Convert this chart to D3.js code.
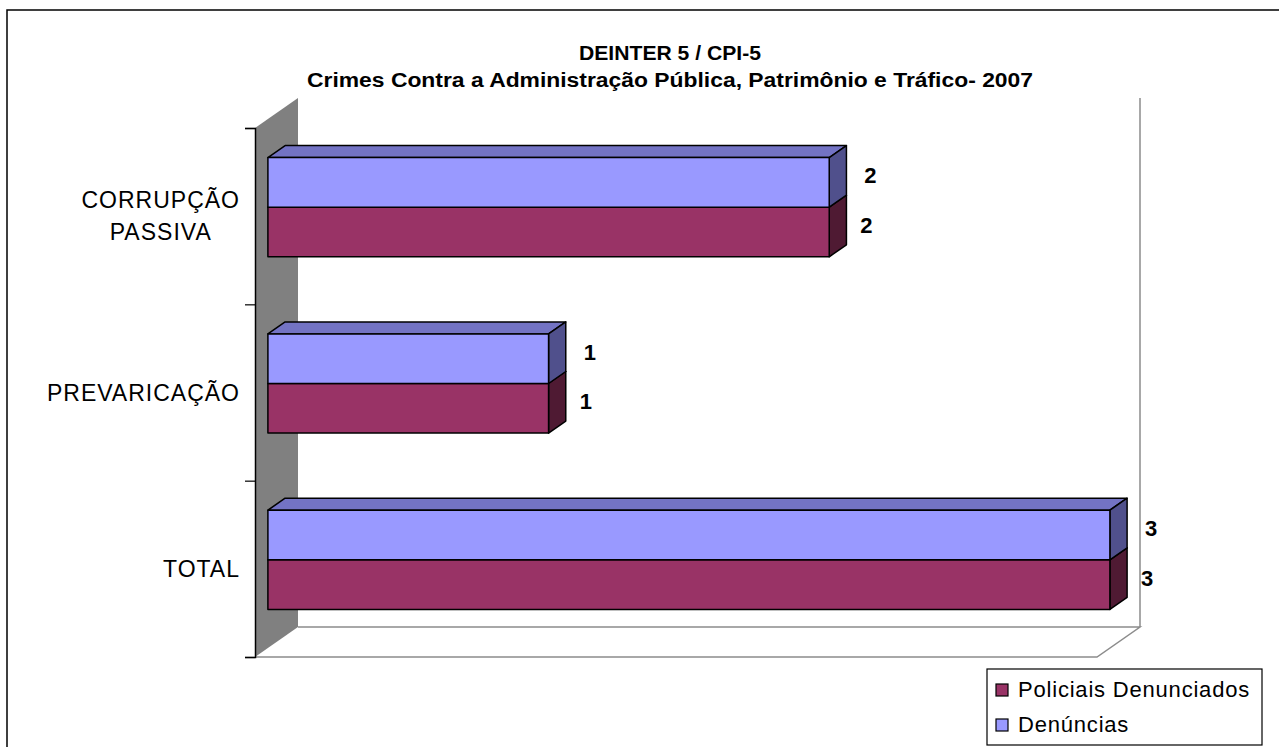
<!DOCTYPE html>
<html>
<head>
<meta charset="utf-8">
<script src="https://cdn.jsdelivr.net/npm/d3@7"></script>
<style>
  body { margin: 0; background: #fff; }
  svg { display: block; font-family: Arial, "Liberation Sans", sans-serif; }
</style>
</head>
<body>
<div id="chart"></div>
<script>
"use strict"

// data
var categories = ["CORRUPÇÃO\nPASSIVA", "PREVARICAÇÃO", "TOTAL"];
var seriesNames = ["Denúncias", "Policiais Denunciados"];
var denuncias = [2, 1, 3];
var policiais = [2, 1, 3];
var titleLines = ["DEINTER 5 / CPI-5", "Crimes Contra a Administração Pública, Patrimônio e Tráfico- 2007"];

var width = 1279, height = 747;

// plot box (front plane) and 3d depth
var plot = { left: 255, right: 1097, top: 128, bottom: 657 },
    depthX = 43, depthY = -30,
    barFront = 0.3, barBack = 0.7;   // bars sit in the middle of the depth

var colors = {
    "Denúncias": { front: "#9999ff", top: "#7373c4", side: "#50508c" },
    "Policiais Denunciados": { front: "#993366", top: "#73264d", side: "#4f1a33" }
};

var rows = categories.map(function (c, i) {
    return { cat: c, values: [
        { name: seriesNames[0], value: denuncias[i] },
        { name: seriesNames[1], value: policiais[i] }
    ] };
});

var svg = d3.select("#chart").append("svg")
    .attr("width", width)
    .attr("height", height);

// outer frame
svg.append("rect")
    .attr("x", 7).attr("y", 10)
    .attr("width", width + 20).attr("height", height + 20)
    .attr("fill", "none")
    .attr("stroke", "#000")
    .attr("stroke-width", 1.5);

// title
var titleWidths = [182, 726];
svg.append("g").selectAll("text")
    .data(titleLines)
    .enter()
    .append("text")
    .attr("x", 670)
    .attr("y", function (d, i) { return 60 + i * 27; })
    .attr("text-anchor", "middle")
    .attr("textLength", function (d, i) { return titleWidths[i]; })
    .attr("lengthAdjust", "spacingAndGlyphs")
    .style("font-size", "20px")
    .style("font-weight", "bold")
    .text(function (d) { return d; });

// scales on the front plane
var x = d3.scaleLinear().domain([0, 3]).range([plot.left, plot.right]);
var y = d3.scaleBand().domain(categories).range([plot.top, plot.bottom])
    .paddingInner(0.4375).paddingOuter(0.21875);
var ySub = d3.scaleBand().domain(seriesNames).range([0, y.bandwidth()]);
var yEdge = d3.scaleLinear().domain([0, categories.length]).range([plot.top, plot.bottom]);

// wall (left side), back wall edge and floor
svg.append("path")
    .attr("d", "M" + plot.left + "," + plot.top +
        "L" + (plot.left + depthX) + "," + (plot.top + depthY) +
        "L" + (plot.left + depthX) + "," + (plot.bottom + depthY) +
        "L" + plot.left + "," + plot.bottom + "Z")
    .attr("fill", "#808080");

svg.append("path")
    .attr("d", "M" + plot.left + "," + plot.bottom +
        "L" + plot.right + "," + plot.bottom +
        "L" + (plot.right + depthX) + "," + (plot.bottom + depthY) +
        "L" + (plot.left + depthX) + "," + (plot.bottom + depthY) +
        "M" + (plot.right + depthX) + "," + (plot.bottom + depthY) +
        "L" + (plot.right + depthX) + "," + (plot.top + depthY))
    .attr("fill", "none")
    .attr("stroke", "#8c8c8c")
    .attr("stroke-width", 1.5);

// category axis with ticks on band edges
var axis = svg.append("g")
    .attr("transform", "translate(" + plot.left + ",0)")
    .call(d3.axisLeft(yEdge).tickValues(d3.range(categories.length + 1))
        .tickFormat("").tickSizeOuter(0).tickSize(10));
axis.select(".domain").attr("stroke", "#000").attr("stroke-width", 1.5);
axis.selectAll(".tick line").attr("stroke", "#000").attr("stroke-width", 1.2);

// category labels
var labels = svg.append("g").selectAll("text")
    .data(categories)
    .enter()
    .append("text")
    .attr("text-anchor", "middle")
    .style("font-size", "23px")
    .style("letter-spacing", "1px")
    .attr("fill", "#000");
labels.each(function (d) {
    var t = d3.select(this);
    var lines = d.split("\n");
    lines.forEach(function (l) { t.append("tspan").text(l); });
    var w = d3.max(t.selectAll("tspan").nodes(), function (n) { return n.getComputedTextLength(); });
    var cx = 240 - w / 2;
    var cy = y(d) + y.bandwidth() / 2;
    var lh = 32;
    t.selectAll("tspan")
        .attr("x", cx)
        .attr("y", function (l, i) { return cy + 8 - (lines.length - 1) * lh / 2 + i * lh; });
});

// 3d bars
var bx = depthX * barFront, by = depthY * barFront;
var dx = depthX * (barBack - barFront), dy = depthY * (barBack - barFront);

var bars = svg.append("g").selectAll("g")
    .data(rows)
    .enter()
    .append("g");

var box = bars.selectAll("g")
    .data(function (d) {
        return d.values.map(function (v) {
            return { cat: d.cat, name: v.name, value: v.value };
        }).reverse();   // draw the lower bar first
    })
    .enter()
    .append("g");

function face(d, kind) {
    var x0 = x(0) + bx, x1 = x(d.value) + bx;
    var y0 = y(d.cat) + ySub(d.name) + by, y1 = y0 + ySub.bandwidth();
    if (kind === "front") return [[x0, y0], [x1, y0], [x1, y1], [x0, y1]];
    if (kind === "top") return [[x0, y0], [x1, y0], [x1 + dx, y0 + dy], [x0 + dx, y0 + dy]];
    return [[x1, y0], [x1 + dx, y0 + dy], [x1 + dx, y1 + dy], [x1, y1]];
}

["top", "side", "front"].forEach(function (kind) {
    box.append("path")
        .attr("d", function (d) { return "M" + face(d, kind).join("L") + "Z"; })
        .attr("fill", function (d) { return colors[d.name][kind]; })
        .attr("stroke", "#000")
        .attr("stroke-width", 1.5)
        .attr("stroke-linejoin", "round");
});

// value labels
box.append("text")
    .attr("x", function (d) { return x(d.value) + bx + dx + (d.name === seriesNames[0] ? 24 : 20); })
    .attr("y", function (d) { return y(d.cat) + ySub(d.name) + by + ySub.bandwidth() / 2 + 1; })
    .attr("text-anchor", "middle")
    .style("font-size", "22px")
    .style("font-weight", "bold")
    .text(function (d) { return d.value; });

// legend
var legend = svg.append("g").attr("transform", "translate(987,669)");
legend.append("rect")
    .attr("width", 275).attr("height", 76)
    .attr("fill", "#fff")
    .attr("stroke", "#000")
    .attr("stroke-width", 1.2);
var li = legend.selectAll("g")
    .data(seriesNames.slice().reverse())
    .enter()
    .append("g")
    .attr("transform", function (d, i) { return "translate(9," + (15 + i * 35) + ")"; });
li.append("rect")
    .attr("width", 12).attr("height", 12)
    .attr("fill", function (d) { return colors[d].front; })
    .attr("stroke", "#000")
    .attr("stroke-width", 1.2);
li.append("text")
    .attr("x", 22).attr("y", 13)
    .style("font-size", "22px")
    .style("letter-spacing", "0.8px")
    .text(function (d) { return d; });
</script>
</body>
</html>
